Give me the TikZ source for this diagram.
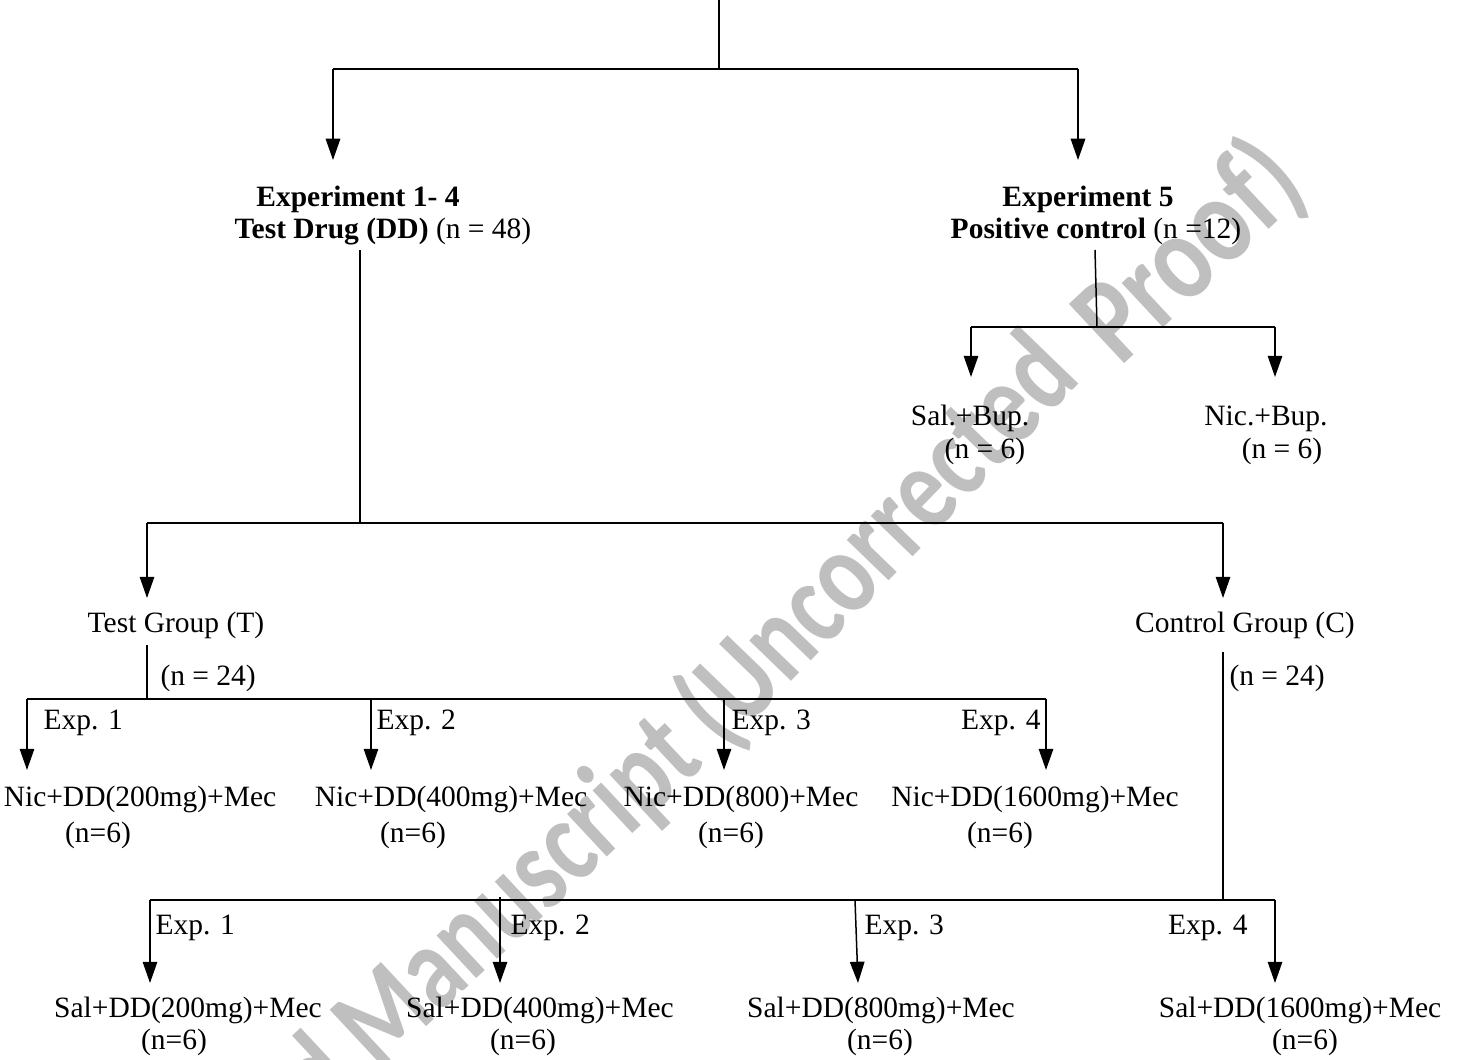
\documentclass[tikz,border=0pt]{standalone}
\usepackage{fontspec}
\setmainfont{Liberation Serif}
\newfontfamily\wmfamily{Carlito}
\usetikzlibrary{arrows.meta}
\definecolor{wm}{gray}{0.75}
\tikzset{
  wmk/.style={anchor=base west, inner sep=0pt, text=wm, font=\fontsize{48}{56}\selectfont\wmfamily\bfseries},
  lab/.style={anchor=base, inner sep=0pt, font=\fontsize{11.8}{14}\selectfont},
  labl/.style={lab, anchor=base west},
  labr/.style={lab, anchor=base east},
  ln/.style={line width=0.6pt},
  bar/.style={line width=0.8pt},
  mainbar/.style={line width=1.05pt},
  arr/.style={line width=0.6pt, -{Triangle[length=8.5pt,width=5.8pt]}},
}
\begin{document}
\begin{tikzpicture}[x=0.4pt,y=-0.4pt]
\useasboundingbox (0,0) rectangle (1458,1059);
% watermark
\node[wmk, rotate=43, xscale=0.79] (wm1) at (95,1335) {Accepted Manuscript};
\node[wmk, rotate=46, xscale=0.79] (wm2) at (724,752) {(Uncorrected};
\node[wmk, rotate=43, xscale=0.8, font=\fontsize{50}{56}\selectfont\wmfamily\bfseries] (wm3) at (1120,368) {Proof)};

% ---------- top level
\coordinate (root) at (719,0);
\coordinate (r1) at (719,69);
\coordinate (bL) at (333,69);
\coordinate (bR) at (1078,69);
\coordinate (tL) at (333,160);
\coordinate (tR) at (1078,160);
\draw[ln] (root) -- (r1);
\draw[mainbar] (bL) -- (bR);
\draw[arr] (bL) -- (tL);
\draw[arr] (bR) -- (tR);

\node[lab] (e14a) at (358,207) {\textbf{Experiment 1- 4}};
\node[lab] (e14b) at (383,238) {\textbf{Test Drug (DD)} (n = 48)};
\node[lab] (e5a) at (1088,207) {\textbf{Experiment 5}};
\node[lab] (e5b) at (1096,238) {\textbf{Positive control} (n =12)};

% ---------- positive control branch
\coordinate (p0) at (1095,250);
\coordinate (p1) at (1097,327);
\coordinate (pL) at (971,327);
\coordinate (pR) at (1275,327);
\coordinate (pLt) at (971,377);
\coordinate (pRt) at (1275,377);
\draw[ln] (p0) -- (p1);
\draw[bar] (pL) -- (pR);
\draw[arr] (pL) -- (pLt);
\draw[arr] (pR) -- (pRt);
\node[lab] (sb1) at (970,425) {Sal.+Bup.};
\node[lab] (sb2) at (985,458) {(n = 6)};
\node[lab] (nb1) at (1266,425) {Nic.+Bup.};
\node[lab] (nb2) at (1282,458) {(n = 6)};

% ---------- test drug branch
\coordinate (d0) at (360,250);
\coordinate (d1) at (360,523);
\coordinate (gL) at (147,523);
\coordinate (gR) at (1223,523);
\coordinate (gLt) at (147,598);
\coordinate (gRt) at (1223,598);
\draw[ln] (d0) -- (d1);
\draw[mainbar] (gL) -- (gR);
\draw[arr] (gL) -- (gLt);
\draw[arr] (gR) -- (gRt);
\node[lab] (tg) at (176,632) {Test Group (T)};
\node[lab] (cg) at (1245,632) {Control Group (C)};

% ---------- test group
\coordinate (t0) at (147,645);
\coordinate (t1) at (147,699);
\draw[ln] (t0) -- (t1);
\node[labl] (tn) at (160,685) {(n = 24)};
\coordinate (ta) at (27,699);
\coordinate (tb) at (371,699);
\coordinate (tc) at (724,699);
\coordinate (td) at (1046,699);
\draw[bar] (ta) -- (td);
\coordinate (tat) at (27,770);
\coordinate (tbt) at (371,770);
\coordinate (tct) at (724,770);
\coordinate (tdt) at (1046,770);
\draw[arr] (ta) -- (tat);
\draw[arr] (tb) -- (tbt);
\draw[arr] (tc) -- (tct);
\draw[arr] (td) -- (tdt);
\node[labl] (te1) at (43,729) {Exp. 1};
\node[labl] (te2) at (376,729) {Exp. 2};
\node[labl] (te3) at (731,729) {Exp. 3};
\node[labr] (te4) at (1041,729) {Exp. 4};
\node[lab] (n1) at (140,806) {Nic+DD(200mg)+Mec};
\node[lab] (n1n) at (98,842) {(n=6)};
\node[lab] (n2) at (451,806) {Nic+DD(400mg)+Mec};
\node[lab] (n2n) at (413,842) {(n=6)};
\node[lab] (n3) at (741,806) {Nic+DD(800)+Mec};
\node[lab] (n3n) at (731,842) {(n=6)};
\node[lab] (n4) at (1035,806) {Nic+DD(1600mg)+Mec};
\node[lab] (n4n) at (1000,842) {(n=6)};

% ---------- control group
\coordinate (c0) at (1223,652);
\coordinate (c1) at (1223,900);
\draw[ln] (c0) -- (c1);
\node[labl] (cn) at (1229,685) {(n = 24)};
\coordinate (ca) at (150,900);
\coordinate (cb) at (500,897);
\coordinate (cc) at (855,900);
\coordinate (cd) at (1275,900);
\draw[bar] (ca) -- (cd);
\coordinate (cat) at (150,983);
\coordinate (cbt) at (500,983);
\coordinate (cct) at (858,983);
\coordinate (cdt) at (1275,983);
\draw[arr] (ca) -- (cat);
\draw[arr] (cb) -- (cbt);
\draw[arr] (cc) -- (cct);
\draw[arr] (cd) -- (cdt);
\node[labl] (ce1) at (155,934) {Exp. 1};
\node[labl] (ce2) at (510,934) {Exp. 2};
\node[labl] (ce3) at (864,934) {Exp. 3};
\node[labr] (ce4) at (1248,934) {Exp. 4};
\node[lab] (s1) at (188,1017) {Sal+DD(200mg)+Mec};
\node[lab] (s1n) at (174,1049) {(n=6)};
\node[lab] (s2) at (540,1017) {Sal+DD(400mg)+Mec};
\node[lab] (s2n) at (523,1049) {(n=6)};
\node[lab] (s3) at (881,1017) {Sal+DD(800mg)+Mec};
\node[lab] (s3n) at (880,1049) {(n=6)};
\node[lab] (s4) at (1300,1017) {Sal+DD(1600mg)+Mec};
\node[lab] (s4n) at (1305,1049) {(n=6)};
\end{tikzpicture}
\end{document}
